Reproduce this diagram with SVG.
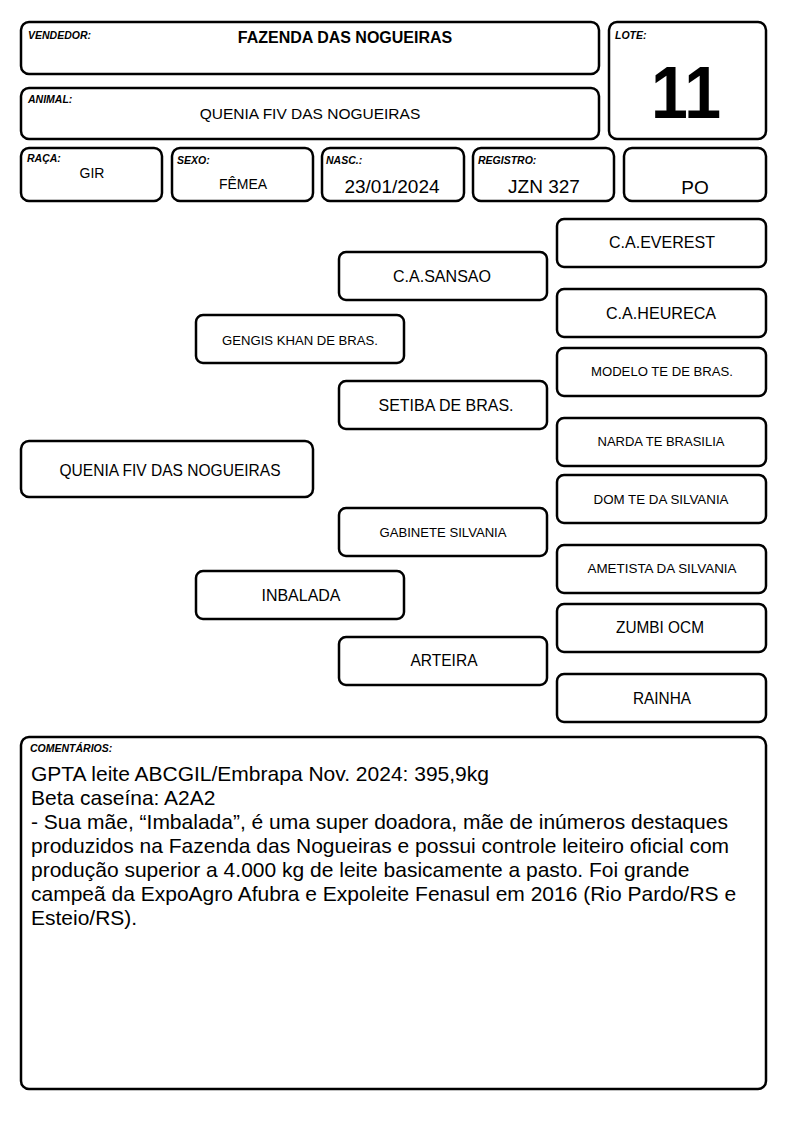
<svg xmlns="http://www.w3.org/2000/svg" width="794" height="1123" viewBox="0 0 794 1123">
<style>
rect{fill:#fff;stroke:#000;stroke-width:2.5}
text{font-family:"Liberation Sans",Arial,sans-serif;fill:#000}
.lbl{font-size:10.5px;font-weight:bold;font-style:italic}
.big{font-size:17px;text-anchor:middle}
.sm{font-size:13.5px;text-anchor:middle}
.val{font-size:19px;text-anchor:middle}
.cm{font-size:21px}
</style>
<rect width="794" height="1123" style="fill:#fff;stroke:none"/>
<g id="vendedor">
<rect x="21" y="22" width="578" height="52" rx="8"/>
<text class="lbl" x="28" y="39">VENDEDOR:</text>
<text x="345" y="43" font-size="16" font-weight="bold" text-anchor="middle">FAZENDA DAS NOGUEIRAS</text>
</g>
<g id="animal">
<rect x="21" y="88" width="578" height="51" rx="8"/>
<text class="lbl" x="28" y="103">ANIMAL:</text>
<text x="310" y="119" font-size="15.5" text-anchor="middle">QUENIA FIV DAS NOGUEIRAS</text>
</g>
<g id="lote">
<rect x="609" y="22" width="157" height="117" rx="8"/>
<text class="lbl" x="615" y="39">LOTE:</text>
<text x="686" y="118" font-size="74" font-weight="bold" text-anchor="middle" textLength="70" lengthAdjust="spacingAndGlyphs">11</text>
</g>
<g id="raca">
<rect x="21" y="148" width="141" height="53" rx="8"/>
<text class="lbl" x="27" y="162">RAÇA:</text>
<text x="92" y="178" font-size="14" text-anchor="middle">GIR</text>
</g>
<g id="sexo">
<rect x="172" y="148" width="141" height="53" rx="8"/>
<text class="lbl" x="177" y="164">SEXO:</text>
<text x="243" y="189" font-size="14" text-anchor="middle">FÊMEA</text>
</g>
<g id="nasc">
<rect x="322" y="148" width="142" height="53" rx="8"/>
<text class="lbl" x="326" y="164">NASC.:</text>
<text class="val" x="392" y="193">23/01/2024</text>
</g>
<g id="registro">
<rect x="473" y="148" width="141" height="53" rx="8"/>
<text class="lbl" x="478" y="164">REGISTRO:</text>
<text class="val" x="544" y="193">JZN 327</text>
</g>
<g id="po">
<rect x="624" y="148" width="142" height="53" rx="8"/>
<text class="val" x="695" y="194">PO</text>
</g>
<g id="connectors"></g>
<g id="p-everest"><rect x="557" y="219" width="209" height="48" rx="7"/><text class="big" x="662" y="248" textLength="106" lengthAdjust="spacingAndGlyphs">C.A.EVEREST</text></g>
<g id="p-sansao"><rect x="339" y="252" width="208" height="48" rx="7"/><text class="big" x="442" y="282" textLength="98" lengthAdjust="spacingAndGlyphs">C.A.SANSAO</text></g>
<g id="p-heureca"><rect x="557" y="289" width="209" height="48" rx="7"/><text class="big" x="661" y="319" textLength="110" lengthAdjust="spacingAndGlyphs">C.A.HEURECA</text></g>
<g id="p-gengis"><rect x="196" y="315" width="208" height="48" rx="7"/><text class="sm" x="300" y="345" textLength="156" lengthAdjust="spacingAndGlyphs">GENGIS KHAN DE BRAS.</text></g>
<g id="p-modelo"><rect x="557" y="348" width="209" height="48" rx="7"/><text class="sm" x="662" y="376" textLength="142" lengthAdjust="spacingAndGlyphs">MODELO TE DE BRAS.</text></g>
<g id="p-setiba"><rect x="339" y="381" width="208" height="48" rx="7"/><text class="big" x="446" y="411" textLength="135" lengthAdjust="spacingAndGlyphs">SETIBA DE BRAS.</text></g>
<g id="p-narda"><rect x="557" y="418" width="209" height="48" rx="7"/><text class="sm" x="661" y="446" textLength="127" lengthAdjust="spacingAndGlyphs">NARDA TE BRASILIA</text></g>
<g id="p-quenia"><rect x="21" y="441" width="292" height="56" rx="8"/><text class="big" x="170" y="476" textLength="221" lengthAdjust="spacingAndGlyphs">QUENIA FIV DAS NOGUEIRAS</text></g>
<g id="p-dom"><rect x="557" y="475" width="209" height="48" rx="7"/><text class="sm" x="661" y="504" textLength="135" lengthAdjust="spacingAndGlyphs">DOM TE DA SILVANIA</text></g>
<g id="p-gabinete"><rect x="339" y="508" width="208" height="48" rx="7"/><text class="sm" x="443" y="537" textLength="127" lengthAdjust="spacingAndGlyphs">GABINETE SILVANIA</text></g>
<g id="p-ametista"><rect x="557" y="545" width="209" height="48" rx="7"/><text class="sm" x="662" y="573" textLength="149" lengthAdjust="spacingAndGlyphs">AMETISTA DA SILVANIA</text></g>
<g id="p-inbalada"><rect x="196" y="571" width="208" height="48" rx="7"/><text class="big" x="301" y="601" textLength="79" lengthAdjust="spacingAndGlyphs">INBALADA</text></g>
<g id="p-zumbi"><rect x="557" y="604" width="209" height="48" rx="7"/><text class="big" x="660" y="633" textLength="88" lengthAdjust="spacingAndGlyphs">ZUMBI OCM</text></g>
<g id="p-arteira"><rect x="339" y="637" width="208" height="48" rx="7"/><text class="big" x="444" y="666" textLength="67" lengthAdjust="spacingAndGlyphs">ARTEIRA</text></g>
<g id="p-rainha"><rect x="557" y="674" width="209" height="48" rx="7"/><text class="big" x="662" y="704" textLength="58" lengthAdjust="spacingAndGlyphs">RAINHA</text></g>
<g id="comentarios">
<rect x="21" y="737" width="745" height="352" rx="8"/>
<text class="lbl" x="30" y="752">COMENTÁRIOS:</text>
<text class="cm" x="31" y="781">GPTA leite ABCGIL/Embrapa Nov. 2024: 395,9kg</text>
<text class="cm" x="31" y="805">Beta caseína: A2A2</text>
<text class="cm" x="31" y="829">- Sua mãe, “Imbalada”, é uma super doadora, mãe de inúmeros destaques</text>
<text class="cm" x="31" y="853">produzidos na Fazenda das Nogueiras e possui controle leiteiro oficial com</text>
<text class="cm" x="31" y="877">produção superior a 4.000 kg de leite basicamente a pasto. Foi grande</text>
<text class="cm" x="31" y="901">campeã da ExpoAgro Afubra e Expoleite Fenasul em 2016 (Rio Pardo/RS e</text>
<text class="cm" x="31" y="925">Esteio/RS).</text>
</g>
</svg>
